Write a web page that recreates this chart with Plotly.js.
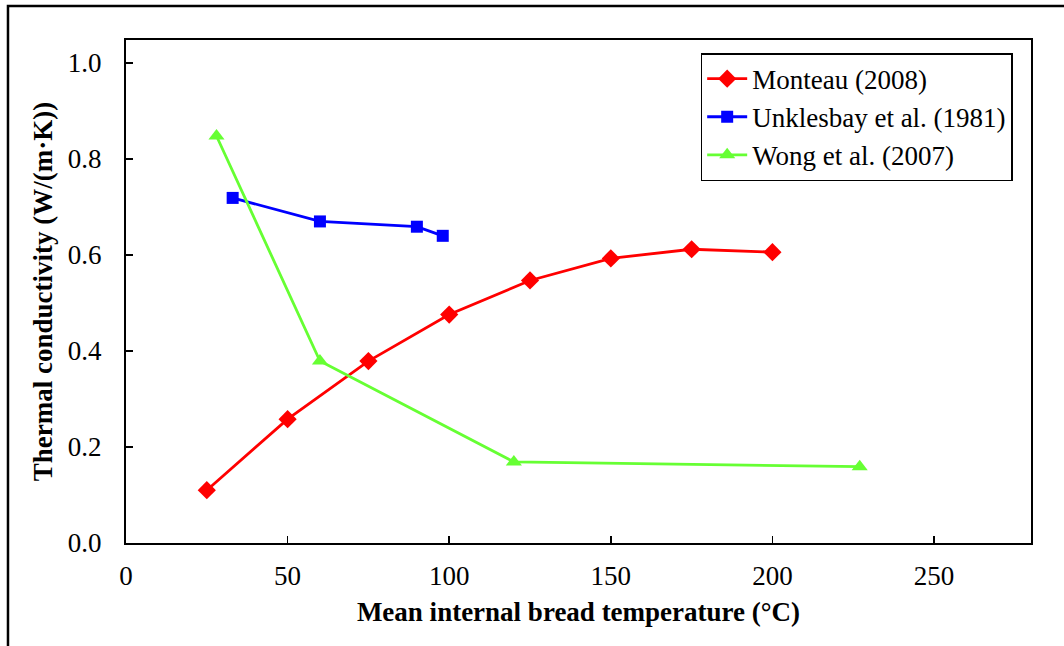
<!DOCTYPE html>
<html><head><meta charset="utf-8">
<script src="https://cdn.plot.ly/plotly-3.0.1.min.js"></script>
<style>body{margin:0;background:#fff}#chart{width:1064px;height:646px}</style>
</head><body><div id="chart"></div>
<script>
const monteauX = [25, 50, 75, 100, 125, 150, 175, 200];
const monteauY = [0.110, 0.258, 0.379, 0.476, 0.547, 0.593, 0.612, 0.606];
const unklesbayX = [33, 60, 90, 98];
const unklesbayY = [0.719, 0.670, 0.659, 0.640];
const wongX = [28, 60, 120, 227];
const wongY = [0.848, 0.379, 0.169, 0.159];
const seriesNames = ['Monteau (2008)', 'Unklesbay et al. (1981)', 'Wong et al. (2007)'];
const xTicks = [0, 50, 100, 150, 200, 250];
const yTicks = [0, 0.2, 0.4, 0.6, 0.8, 1.0];

const font = 'Liberation Serif';
const fs = 27;
const traces = [
  {x: monteauX, y: monteauY, name: seriesNames[0], legendgroup: 'a', mode: 'lines+markers',
   line: {color: '#ff0000', width: 2.8}, marker: {symbol: 'diamond', size: 14, color: '#ff0000'}},
  {x: unklesbayX, y: unklesbayY, name: seriesNames[1], legendgroup: 'b', mode: 'lines+markers',
   line: {color: '#0000ff', width: 2.8}, marker: {symbol: 'square', size: 12, color: '#0000ff'}},
  {x: wongX, y: wongY, name: seriesNames[2], legendgroup: 'c', mode: 'lines+markers',
   line: {color: '#66ff33', width: 2.8}, marker: {symbol: 'triangle-up', size: 14, color: '#66ff33'}}
];
const axisCommon = {
  showgrid: false, zeroline: false, showline: true, mirror: true, linecolor: '#000', linewidth: 2,
  ticks: 'inside', ticklen: 7, tickwidth: 1.5, tickcolor: '#000',
  tickfont: {family: font, size: fs, color: '#000'}
};
const layout = {
  width: 1064, height: 646,
  font: {family: font, size: fs, color: '#000'},
  margin: {l: 126, r: 33, t: 40, b: 103},
  paper_bgcolor: '#fff', plot_bgcolor: '#fff',
  showlegend: true,
  legend: {x: 0.635, y: 0.974, xanchor: 'left', yanchor: 'top', bgcolor: '#fff',
    bordercolor: '#000', borderwidth: 1.5, tracegroupgap: 0, traceorder: 'grouped',
    itemwidth: 40, entrywidth: 265, entrywidthmode: 'pixels',
    font: {family: font, size: fs, color: '#000'}},
  xaxis: Object.assign({}, axisCommon, {range: [0, 280], tickvals: xTicks,
    ticktext: xTicks.map(String), ticklabelstandoff: 8,
    title: {text: '<b>Mean internal bread temperature (°C)</b>', font: {family: font, size: fs, color: '#000'}, standoff: 12}}),
  yaxis: Object.assign({}, axisCommon, {range: [0, 1.048], tickvals: yTicks,
    ticktext: yTicks.map(v => v.toFixed(1)), ticklabelstandoff: 17,
    title: {text: '<b>Thermal conductivity (W/(m·K))</b>', font: {family: font, size: fs, color: '#000'}, standoff: 7}}),
  shapes: [
    {type: 'rect', xref: 'paper', yref: 'paper', x0: -0.1304, x1: 1.05, y0: -0.25, y1: 1.0676,
     line: {color: '#000', width: 2.5}, fillcolor: 'rgba(0,0,0,0)', layer: 'below'}
  ]
};
Plotly.newPlot('chart', traces, layout, {displayModeBar: false, staticPlot: true});
</script></body></html>
